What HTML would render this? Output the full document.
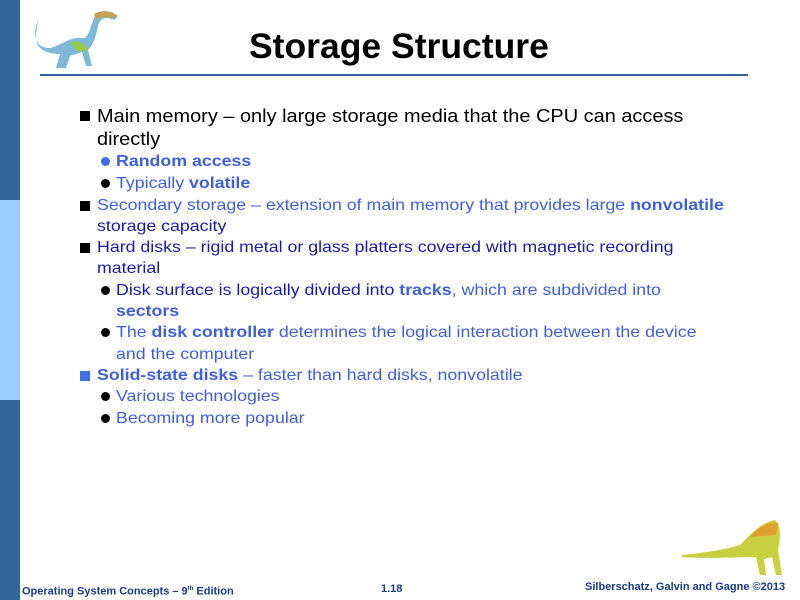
<!DOCTYPE html>
<html><head><meta charset="utf-8"><style>
body{margin:0;width:800px;height:600px;position:relative;overflow:hidden;background:#fff;font-family:"Liberation Sans",sans-serif}
.t{position:absolute;white-space:nowrap;line-height:20px}
.l1{font-size:18px;left:97px;transform:scaleX(1.108);transform-origin:0 0}
.l2{font-size:16px;left:116px;transform:scaleX(1.11);transform-origin:0 0}
.b1{position:absolute;width:10px;height:10px;background:#000;left:80px}
.b2{position:absolute;width:9px;height:9px;border-radius:50%;background:#000;left:101px}
.L{color:#3f5fdc}.D{color:#1a1aa8}
b{font-weight:bold}
</style></head><body>
<div style="position:absolute;left:0;top:0;width:20px;height:200px;background:#336699"></div>
<div style="position:absolute;left:0;top:200px;width:20px;height:200px;background:#99ccff"></div>
<div style="position:absolute;left:0;top:400px;width:20px;height:200px;background:#336699"></div>
<div style="position:absolute;left:40px;top:74px;width:708px;height:2px;background:#336699"></div>
<svg style="position:absolute;left:30px;top:6px" width="95" height="66" viewBox="0 0 95 66">
<path d="M8 14 C2 30 5 42 20 42 C30 40 40 30 55 32 C60 28 62 15 65 10 C70 4 80 5 88 10 L84 14 C76 10 70 12 68 20 C66 30 64 38 58 44 L62 60 L56 60 L52 46 L40 50 L36 62 L26 62 L30 48 C18 48 4 44 6 28 Z" fill="#7fb8d8"/>
<path d="M40 36 C50 34 56 38 58 44 L48 46 Z" fill="#9c4"/>
<path d="M64 8 C72 3 82 5 88 10 L80 12 C74 10 68 12 66 14Z" fill="#c9a050"/>
</svg>
<div class="t" style="left:249px;top:25px;font-size:35.5px;font-weight:bold;line-height:42px">Storage Structure</div>

<div class="b1" style="top:111px"></div>
<div class="t l1" style="top:106px">Main memory – only large storage media that the CPU can access</div>
<div class="t l1" style="top:129px">directly</div>
<div class="b2" style="top:157px;background:#3f6fe0"></div>
<div class="t l2 L" style="top:152px"><b>Random access</b></div>
<div class="b2" style="top:179px"></div>
<div class="t l2 L" style="top:174px">Typically <b>volatile</b></div>
<div class="b1" style="top:201px"></div>
<div class="t l2 L" style="top:196px;left:97px">Secondary storage – extension of main memory that provides large <b>nonvolatile</b></div>
<div class="t l2 D" style="top:217px;left:97px">storage capacity</div>
<div class="b1" style="top:243px"></div>
<div class="t l2 D" style="top:238px;left:97px">Hard disks – rigid metal or glass platters covered with magnetic recording</div>
<div class="t l2 D" style="top:259px;left:97px">material</div>
<div class="b2" style="top:286px"></div>
<div class="t l2" style="top:281px"><span class="D">Disk surface is logically divided into </span><b class="L">tracks</b><span class="L">, which are subdivided into</span></div>
<div class="t l2 L" style="top:302px"><b>sectors</b></div>
<div class="b2" style="top:328px"></div>
<div class="t l2 L" style="top:323px">The <b>disk controller</b> determines the logical interaction between the device</div>
<div class="t l2 L" style="top:345px">and the computer</div>
<div class="b1" style="top:371px;background:#3f6fe0"></div>
<div class="t l2 L" style="top:366px;left:97px"><b>Solid-state disks</b> – faster than hard disks, nonvolatile</div>
<div class="b2" style="top:392px"></div>
<div class="t l2 L" style="top:387px">Various technologies</div>
<div class="b2" style="top:414px"></div>
<div class="t l2 L" style="top:409px">Becoming more popular</div>

<svg style="position:absolute;left:680px;top:515px" width="110" height="65" viewBox="0 0 110 65">
<path d="M2 40 C20 38 40 36 60 30 C70 20 80 8 95 5 C102 10 100 25 98 35 L102 60 L96 60 L92 42 L84 44 L86 60 L80 60 L76 42 C60 42 30 44 2 42 Z" fill="#c8d040"/>
<path d="M70 22 C80 10 92 6 98 8 L96 20 Z" fill="#e0a030"/>
</svg>
<div class="t" style="left:22px;top:582px;font-size:11px;font-weight:bold;color:#1a3a8a;line-height:14px">Operating System Concepts – 9<sup style="font-size:6px">th</sup> Edition</div>
<div class="t" style="left:381px;top:582px;font-size:11px;font-weight:bold;color:#1a3a8a;line-height:14px">1.18</div>
<div class="t" style="left:585px;top:580px;font-size:11px;font-weight:bold;color:#1a3a8a;line-height:14px">Silberschatz, Galvin and Gagne ©2013</div>
</body></html>
